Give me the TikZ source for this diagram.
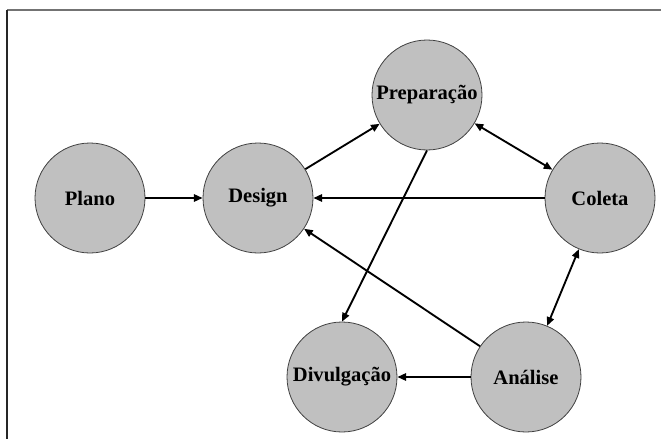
\documentclass[tikz,border=0pt]{standalone}
\usepackage{fontspec}
\setmainfont{Liberation Serif}
\usetikzlibrary{arrows.meta}

\definecolor{circfill}{RGB}{192,192,192}

\tikzset{
  etapa/.style={circle, draw=black!75, fill=circfill, line width=0.6pt,
    minimum size=82.5pt, inner sep=0pt,
    font=\fontsize{15.4}{17}\selectfont\bfseries},
  seta/.style={-{Triangle[length=6.5pt,width=5.5pt]}, line width=1.4pt},
  dupla/.style={{Triangle[length=6.5pt,width=5.5pt]}-{Triangle[length=6.5pt,width=5.5pt]}, line width=1.4pt}
}

\begin{document}
\begin{tikzpicture}[x=0.75pt,y=-0.75pt]
\useasboundingbox (0,0) rectangle (661,439);

% moldura
\draw[black!55, line width=0.8pt] (7,10) -- (661,10);
\draw[black!85, line width=0.8pt] (7,10) -- (7,439);

% etapas
\node[etapa] (plano) at (90,198) {Plano};
\node[etapa] (design) at (258,198) {Design};
\node[etapa] (prep) at (427,95) {Preparação};
\node[etapa] (coleta) at (600,198) {Coleta};
\node[etapa] (analise) at (526,377) {Análise};
\node[etapa] (divul) at (342,377) {Divulgação};

% ligacoes
\draw[seta] (plano) -- (design);
\draw[seta] (design) -- (prep);
\draw[dupla] (prep) -- (coleta);
\draw[seta] (coleta) -- (design);
\draw[seta] (prep.south) -- (divul.north);
\draw[seta] (analise) -- (design);
\draw[dupla] (coleta) -- (analise);
\draw[seta] (analise) -- (divul);

\end{tikzpicture}
\end{document}
